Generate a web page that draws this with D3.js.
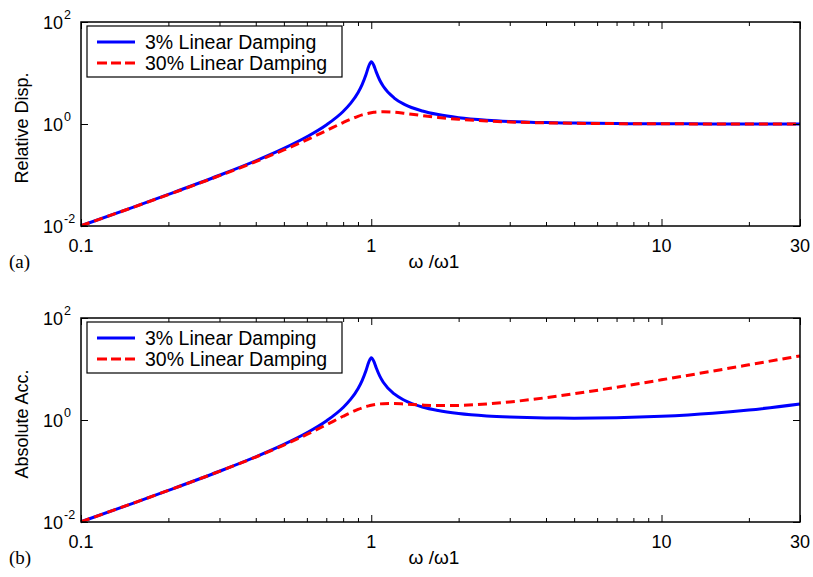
<!DOCTYPE html>
<html>
<head>
<meta charset="utf-8">
<script src="https://cdn.jsdelivr.net/npm/d3@7"></script>
<style>
  body { margin: 0; background: #fff; }
  text { font-family: "Liberation Sans", Arial, sans-serif; fill: #000; }
</style>
</head>
<body>
<svg id="chart" width="813" height="577"></svg>
<script>
// frequency ratio w/w1 samples
const ratio = [0.1, 0.15, 0.2, 0.3, 0.4, 0.5, 0.6, 0.7, 0.8, 0.85, 0.9, 0.93, 0.96, 0.98, 1.0,
  1.02, 1.04, 1.07, 1.1, 1.2, 1.3, 1.5, 1.7, 2, 2.5, 3, 4, 5, 7, 10, 15, 20, 30];

// (a) relative displacement
const relDisp3 = [0.0101, 0.0230, 0.0417, 0.0989, 0.190, 0.333, 0.562, 0.958, 1.76, 2.56, 4.10, 5.92, 9.47, 13.55, 16.67,
  14.19, 10.53, 7.22, 5.50, 3.23, 2.43, 1.80, 1.53, 1.33, 1.19, 1.125, 1.067, 1.042, 1.021, 1.010, 1.0045, 1.0025, 1.001];
const relDisp30 = [0.0101, 0.0229, 0.0413, 0.0970, 0.183, 0.310, 0.490, 0.742, 1.067, 1.244, 1.415, 1.507, 1.585, 1.630, 1.667,
  1.696, 1.719, 1.740, 1.747, 1.707, 1.623, 1.461, 1.346, 1.238, 1.145, 1.098, 1.053, 1.034, 1.017, 1.008, 1.004, 1.002, 1.001];

// (b) absolute acceleration
const absAcc3 = [0.0101, 0.0230, 0.0417, 0.0989, 0.190, 0.333, 0.562, 0.958, 1.76, 2.56, 4.11, 5.93, 9.48, 13.57, 16.70,
  14.22, 10.55, 7.24, 5.51, 3.24, 2.44, 1.80, 1.535, 1.342, 1.203, 1.143, 1.097, 1.088, 1.107, 1.178, 1.351, 1.566, 2.061];
const absAcc30 = [0.0101, 0.0230, 0.0416, 0.0986, 0.188, 0.323, 0.521, 0.805, 1.183, 1.397, 1.608, 1.725, 1.830, 1.891, 1.944,
  1.989, 2.026, 2.067, 2.093, 2.103, 2.058, 1.965, 1.922, 1.934, 2.064, 2.260, 2.738, 3.269, 4.391, 6.133, 9.089, 12.07, 18.04];

const seriesNames = ['3% Linear Damping', '30% Linear Damping'];
const xMajor = [0.1, 1, 10, 30];
const xMinor = [0.2, 0.3, 0.4, 0.5, 0.6, 0.7, 0.8, 0.9, 2, 3, 4, 5, 6, 7, 8, 9, 20];
const yTicks = [0.01, 1, 100];
const yExp = ['-2', '0', '2'];

const panels = [
  { top: 22, label: 'Relative Disp.', tag: '(a)', s3: relDisp3, s30: relDisp30 },
  { top: 318, label: 'Absolute Acc.', tag: '(b)', s3: absAcc3, s30: absAcc30 }
];

const svg = d3.select('#chart');
const left = 81, right = 800, ph = 204;

const x = d3.scaleLog().domain([0.1, 30]).range([left, right]);

panels.forEach(p => {
  const bottom = p.top + ph;
  const y = d3.scaleLog().domain([0.01, 100]).range([bottom, p.top]);
  const g = svg.append('g');

  const line = d3.line()
    .x((d, i) => x(ratio[i]))
    .y(d => y(d))
    .curve(d3.curveMonotoneX);

  g.append('path').datum(p.s3)
    .attr('d', line).attr('fill', 'none')
    .attr('stroke', '#0000ff').attr('stroke-width', 3);
  g.append('path').datum(p.s30)
    .attr('d', line).attr('fill', 'none')
    .attr('stroke', '#ff0000').attr('stroke-width', 3)
    .attr('stroke-dasharray', '9,5');

  // box
  g.append('rect')
    .attr('x', left).attr('y', p.top)
    .attr('width', right - left).attr('height', ph)
    .attr('fill', 'none').attr('stroke', '#000').attr('stroke-width', 1.5);

  // ticks, all pointing inward
  const addAxis = (axis, tr) => {
    const a = g.append('g').attr('transform', tr).call(axis);
    a.select('.domain').remove();
    a.selectAll('line').attr('stroke', '#000').attr('stroke-width', 1);
    return a;
  };
  addAxis(d3.axisBottom(x).tickValues(xMinor).tickSize(-4).tickFormat(''), `translate(0,${bottom})`);
  addAxis(d3.axisBottom(x).tickValues(xMajor).tickSize(-7).tickFormat(''), `translate(0,${bottom})`);
  addAxis(d3.axisTop(x).tickValues(xMinor).tickSize(-4).tickFormat(''), `translate(0,${p.top})`);
  addAxis(d3.axisTop(x).tickValues(xMajor).tickSize(-7).tickFormat(''), `translate(0,${p.top})`);
  addAxis(d3.axisLeft(y).tickValues(yTicks).tickSize(-7).tickFormat(''), `translate(${left},0)`);
  addAxis(d3.axisRight(y).tickValues(yTicks).tickSize(-7).tickFormat(''), `translate(${right},0)`);

  // x tick labels
  g.selectAll('text.xl').data(xMajor).enter().append('text')
    .attr('class', 'xl')
    .attr('x', d => x(d)).attr('y', bottom + 26)
    .attr('text-anchor', 'middle').attr('font-size', 18)
    .text(d => d);

  // y tick labels: 10^n
  yTicks.forEach((v, i) => {
    g.append('text')
      .attr('x', 63).attr('y', y(v) + 6.5)
      .attr('text-anchor', 'end').attr('font-size', 18)
      .text('10');
    g.append('text')
      .attr('x', 64).attr('y', y(v) - 3)
      .attr('font-size', 12.5)
      .text(yExp[i]);
  });

  // axis labels
  g.append('text')
    .attr('transform', `translate(28,${(p.top + bottom) / 2 + 4}) rotate(-90)`)
    .attr('text-anchor', 'middle').attr('font-size', 18)
    .text(p.label);
  g.append('text')
    .attr('x', 434).attr('y', bottom + 42)
    .attr('text-anchor', 'middle').attr('font-size', 19)
    .text('\u03c9 /\u03c91');
  g.append('text')
    .attr('x', 9).attr('y', bottom + 42)
    .style('font-family', '"Liberation Serif", "Times New Roman", serif')
    .attr('font-size', 19)
    .text(p.tag);

  // legend
  const lg = g.append('g').attr('transform', `translate(87,${p.top + 4})`);
  lg.append('rect')
    .attr('width', 255).attr('height', 51)
    .attr('fill', '#fff').attr('stroke', '#000').attr('stroke-width', 1.2);
  seriesNames.forEach((name, i) => {
    const ly = 16 + i * 21;
    lg.append('line')
      .attr('x1', 10).attr('x2', 48).attr('y1', ly).attr('y2', ly)
      .attr('stroke', i === 0 ? '#0000ff' : '#ff0000').attr('stroke-width', 3)
      .attr('stroke-dasharray', i === 0 ? null : '10,4');
    lg.append('text')
      .attr('x', 58).attr('y', ly + 7)
      .attr('font-size', 19.5)
      .text(name);
  });
});
</script>
</body>
</html>
